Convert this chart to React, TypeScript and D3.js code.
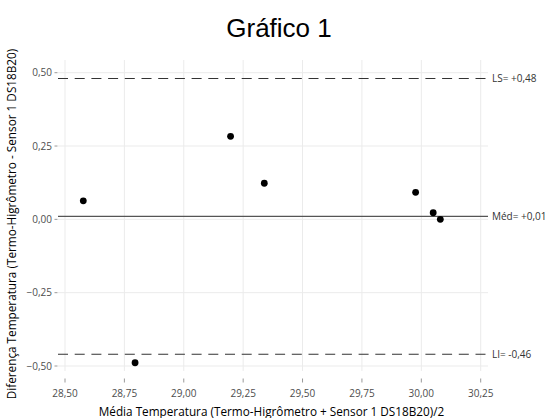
import React from "react";
import * as d3 from "d3";

const meanTemp = [28.577, 28.795, 29.197, 29.339, 29.976, 30.05, 30.08];
const diffTemp = [0.063, -0.489, 0.283, 0.123, 0.092, 0.0225, 0.0];
const xTicks = [28.5, 28.75, 29.0, 29.25, 29.5, 29.75, 30.0, 30.25];
const yTicks = [-0.5, -0.25, 0, 0.25, 0.5];
const refLines = [
  { value: 0.48, label: "LS= +0,48", dashed: true },
  { value: 0.01, label: "Méd= +0,01", dashed: false },
  { value: -0.46, label: "LI= -0,46", dashed: true },
];

const W = 546;
const H = 418;
const panel = { left: 58, right: 488, top: 60, bottom: 371 };
const fmt = (v: number) => d3.format(".2f")(v).replace(".", ",");

export default function App() {
  const x = d3.scaleLinear().domain([28.5, 30.25]).range([65, 480.7]);
  const y = d3.scaleLinear().domain([-0.5, 0.5]).range([366, 72.7]);
  const font = "'Open Sans', 'Noto Sans', sans-serif";
  return (
    <svg width={W} height={H} style={{ position: "absolute", left: 0, top: 0 }}>
      <rect width={W} height={H} fill="#fff" />
      <text x={279} y={36.5} textAnchor="middle" fontFamily="'Liberation Sans', Arial, sans-serif" fontSize={26} fill="#000">
        Gráfico 1
      </text>
      {xTicks.map((t) => (
        <line key={"gx" + t} x1={x(t)} x2={x(t)} y1={panel.top} y2={panel.bottom} stroke="#ebebeb" strokeWidth={1} />
      ))}
      {yTicks.map((t) => (
        <line key={"gy" + t} x1={panel.left} x2={panel.right} y1={y(t)} y2={y(t)} stroke="#ebebeb" strokeWidth={1} />
      ))}
      {xTicks.map((t) => (
        <g key={"tx" + t}>
          <line x1={x(t)} x2={x(t)} y1={378.5} y2={382.5} stroke="#999" strokeWidth={1} />
          <text x={x(t)} y={396.5} textAnchor="middle" fontFamily={font} fontSize={10} fill="#4d4d4d">
            {fmt(t)}
          </text>
        </g>
      ))}
      {yTicks.map((t) => (
        <g key={"ty" + t}>
          <line x1={54.5} x2={57.5} y1={y(t)} y2={y(t)} stroke="#999" strokeWidth={1} />
          <text x={52} y={y(t) + 3.5} textAnchor="end" fontFamily={font} fontSize={10} fill="#4d4d4d">
            {fmt(t)}
          </text>
        </g>
      ))}
      {refLines.map((r) => (
        <g key={r.label}>
          <line
            x1={panel.left}
            x2={panel.right}
            y1={y(r.value)}
            y2={y(r.value)}
            stroke={r.dashed ? "#333" : "#555"}
            strokeWidth={1.1}
            strokeDasharray={r.dashed ? "10 6.7" : undefined}
          />
          <text x={492} y={y(r.value) + 3.5} fontFamily={font} fontSize={10} fill="#333">
            {r.label}
          </text>
        </g>
      ))}
      {meanTemp.map((m, i) => (
        <circle key={i} cx={x(m)} cy={y(diffTemp[i])} r={3.4} fill="#000" />
      ))}
      <text x={271.5} y={415.5} textAnchor="middle" fontFamily={font} fontSize={11.75} fill="#000">
        Média Temperatura (Termo-Higrômetro + Sensor 1 DS18B20)/2
      </text>
      <text
        transform={`translate(16,224) rotate(-90)`}
        textAnchor="middle"
        fontFamily={font}
        fontSize={11.75}
        fill="#000"
      >
        Diferença Temperatura (Termo-Higrômetro - Sensor 1 DS18B20)
      </text>
    </svg>
  );
}
